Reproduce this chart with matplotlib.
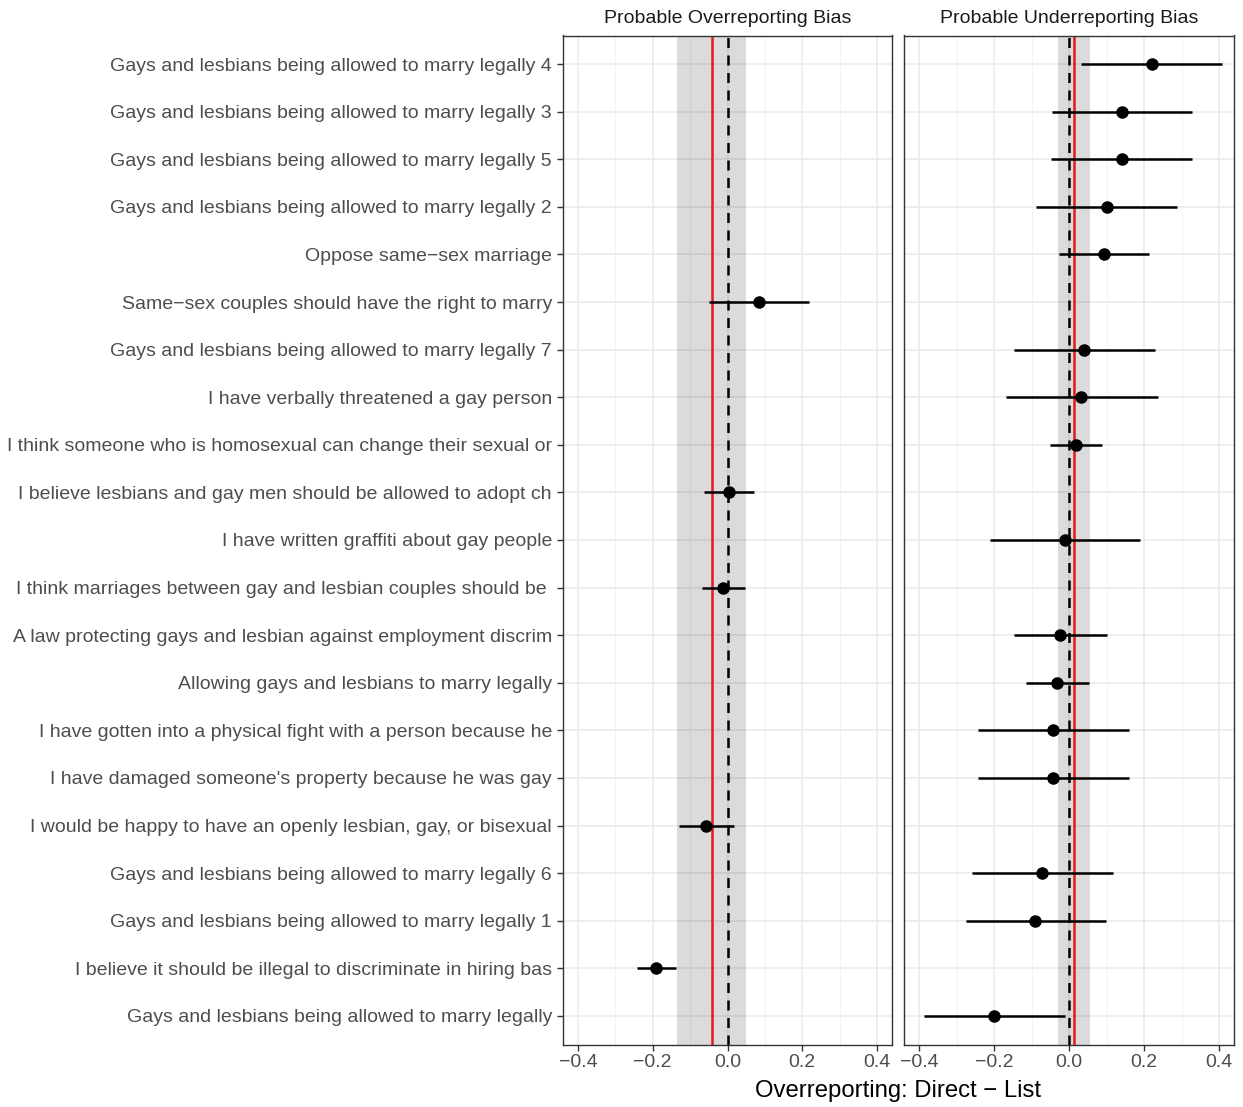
import numpy as np
import matplotlib
matplotlib.use('Agg')
from matplotlib import pyplot as plt

plt.rcParams['font.family'] = ['Liberation Sans', 'DejaVu Sans']

# Items, top to bottom
labels = [
    'Gays and lesbians being allowed to marry legally 4',
    'Gays and lesbians being allowed to marry legally 3',
    'Gays and lesbians being allowed to marry legally 5',
    'Gays and lesbians being allowed to marry legally 2',
    'Oppose same\u2212sex marriage',
    'Same\u2212sex couples should have the right to marry',
    'Gays and lesbians being allowed to marry legally 7',
    'I have verbally threatened a gay person',
    'I think someone who is homosexual can change their sexual or',
    'I believe lesbians and gay men should be allowed to adopt ch',
    'I have written graffiti about gay people',
    'I think marriages between gay and lesbian couples should be ',
    'A law protecting gays and lesbian against employment discrim',
    'Allowing gays and lesbians to marry legally',
    'I have gotten into a physical fight with a person because he',
    "I have damaged someone's property because he was gay",
    'I would be happy to have an openly lesbian, gay, or bisexual',
    'Gays and lesbians being allowed to marry legally 6',
    'Gays and lesbians being allowed to marry legally 1',
    'I believe it should be illegal to discriminate in hiring bas',
    'Gays and lesbians being allowed to marry legally',
]

# Overreporting panel (None = item not in this panel)
over_est = [None, None, None, None, None, 0.084, None, None, None, 0.004, None, -0.013,
            None, None, None, None, -0.058, None, None, -0.191, None]
over_lo = [None, None, None, None, None, -0.049, None, None, None, -0.062, None, -0.068,
           None, None, None, None, -0.130, None, None, -0.243, None]
over_hi = [None, None, None, None, None, 0.219, None, None, None, 0.070, None, 0.046,
           None, None, None, None, 0.018, None, None, -0.137, None]

# Underreporting panel
under_est = [0.220, 0.140, 0.140, 0.100, 0.093, None, 0.039, 0.032, 0.018, None, -0.011, None,
             -0.024, -0.033, -0.044, -0.044, None, -0.071, -0.091, None, -0.200]
under_lo = [0.032, -0.046, -0.047, -0.087, -0.027, None, -0.147, -0.169, -0.051, None, -0.211, None,
            -0.147, -0.116, -0.243, -0.243, None, -0.258, -0.276, None, -0.388]
under_hi = [0.409, 0.329, 0.329, 0.288, 0.213, None, 0.229, 0.236, 0.087, None, 0.190, None,
            0.101, 0.054, 0.159, 0.159, None, 0.118, 0.098, None, -0.012]

# pooled mean and interval per panel
over_mean, over_band = -0.042, (-0.135, 0.049)
under_mean, under_band = 0.0135, (-0.030, 0.057)

W, H = 1243, 1107
fig = plt.figure(figsize=(W / 100, H / 100), dpi=100)


def px_axes(x0, y0, x1, y1):
    return fig.add_axes([x0 / W, 1 - y1 / H, (x1 - x0) / W, (y1 - y0) / H])


ax1 = px_axes(563, 35.5, 892, 1044.5)
ax2 = px_axes(904, 35.5, 1234, 1044.5)

ypos = np.arange(1, len(labels) + 1)
panels = [
    (ax1, 'Probable Overreporting Bias', over_est, over_lo, over_hi, over_mean, over_band),
    (ax2, 'Probable Underreporting Bias', under_est, under_lo, under_hi, under_mean, under_band),
]

for ax, title, est, lo, hi, mean, band in panels:
    ax.set_xlim(-0.44, 0.44)
    ax.set_ylim(len(labels) + 0.6, 0.4)
    ax.set_xticks([-0.4, -0.2, 0.0, 0.2, 0.4])
    ax.set_xticks([-0.3, -0.1, 0.1, 0.3], minor=True)
    ax.set_xticklabels(['\u22120.4', '\u22120.2', '0.0', '0.2', '0.4'])
    ax.set_yticks(ypos)
    ax.grid(True, which='major', color='#EBEBEB', lw=1.2, zorder=0)
    ax.grid(True, which='minor', axis='x', color='#F2F2F2', lw=0.7, zorder=0)
    ax.set_axisbelow(True)
    for s in ax.spines.values():
        s.set_color('#333333')
        s.set_linewidth(1.0)
    ax.tick_params(axis='x', which='major', length=4, width=1, color='#333333',
                   labelsize=14, labelcolor='#4D4D4D', pad=3)
    ax.tick_params(axis='x', which='minor', length=0)

    ax.axvspan(band[0], band[1], color='black', alpha=0.14, lw=0, zorder=1)
    ax.axvline(0, color='black', lw=1.8, ls=(0, (4, 3)), zorder=2)
    ax.axvline(mean, color='#E41A1C', lw=1.8, zorder=2)

    for y, e, l, h in zip(ypos, est, lo, hi):
        if e is None:
            continue
        ax.plot([l, h], [y, y], color='black', lw=1.8, solid_capstyle='butt', zorder=3)
        ax.plot(e, y, 'o', color='black', ms=8, zorder=4)

    ax.set_title(title, fontsize=14, color='#1A1A1A', pad=9)

ax1.set_yticklabels(labels)
ax1.tick_params(axis='y', length=4, width=1, color='#333333',
                labelsize=14, labelcolor='#4D4D4D', pad=4)
ax2.tick_params(axis='y', length=0, labelleft=False)

fig.text(898 / W, 1 - 1091 / H, 'Overreporting: Direct \u2212 List',
         ha='center', va='center', fontsize=17.2, color='black')

fig.savefig('out.png', dpi=100)
